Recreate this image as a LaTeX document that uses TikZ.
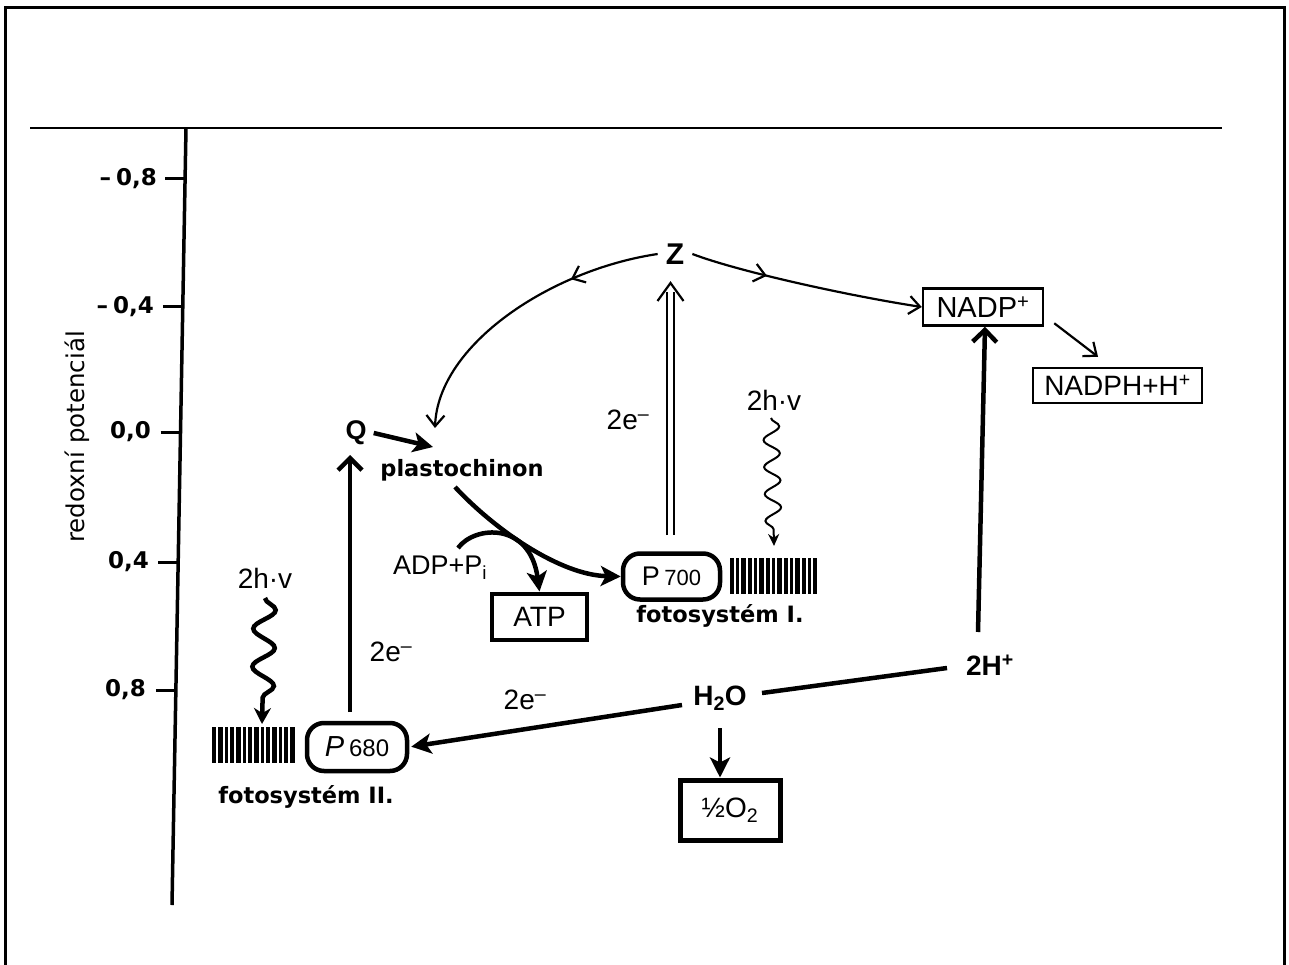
\documentclass[tikz,border=0pt]{standalone}
\usepackage{fontspec}
\setmainfont{Liberation Sans}
\newfontfamily\heavyfont{DejaVu Sans}
\usepackage{graphicx}
\usetikzlibrary{arrows.meta,decorations.pathmorphing,decorations.markings}
\tikzset{
 lab/.style={inner sep=0pt, font=\fontsize{28}{30}\selectfont},
 labb/.style={inner sep=0pt, font=\fontsize{28}{30}\selectfont\bfseries},
 heavy/.style={inner sep=0pt, font=\heavyfont\bfseries\fontsize{22.5}{24}\selectfont},
 ticklab/.style={inner sep=0pt, anchor=east, font=\heavyfont\bfseries\fontsize{23}{24}\selectfont},
 sqbox/.style={draw, line width=2.5pt, inner sep=0pt},
 rbox/.style={draw, line width=4.5pt, rounded corners=17pt, inner sep=0pt},
 thinarr/.style={line width=2.2pt, -{Straight Barb[length=11pt,width=18pt,line width=2.2pt]}},
 boldarr/.style={line width=4.5pt, -{Stealth[length=20pt,width=20pt,inset=5pt]}},
 barbarr/.style={line width=4.5pt, -{Straight Barb[length=12pt,width=24pt,line width=4.5pt]}},
 midarr/.style={postaction={decorate}, decoration={markings, mark=at position #1 with {\arrow{Straight Barb[length=11pt,width=18pt,line width=2.2pt]}}}},
 axisline/.style={line width=3pt},
}
\begin{document}
\begin{tikzpicture}[x=1pt,y=-1pt]
\useasboundingbox (0,0) rectangle (1289,965);
% frame
\draw[line width=3pt] (5,965) -- (5,8) -- (1284,8) -- (1284,965);
\draw[line width=2.5pt] (30,128) -- (1222,128);
% axis
\coordinate (axtop) at (186,128);
\coordinate (axbot) at (172,905);
\draw[line width=3.5pt] (axtop) -- (axbot);
\foreach \y/\xa in {179/185.1, 307/182.8, 432/180.5, 562/178.2, 690/175.9}
  \draw[axisline] (\xa-20,\y) -- (\xa,\y);
\node[ticklab] (l1) at (157,179) {–\hspace{5pt}0,8};
\node[ticklab] (l2) at (154,307) {–\hspace{5pt}0,4};
\node[ticklab] (l3) at (151,432) {0,0};
\node[ticklab] (l4) at (149,562) {0,4};
\node[ticklab] (l5) at (146,690) {0,8};
\node[rotate=90, inner sep=0pt, font=\heavyfont\fontsize{24.5}{26}\selectfont] (rp) at (77,437) {redoxní potenciál};

% top: Z and NADP
\node[inner sep=8pt, font=\fontsize{30}{32}\selectfont\bfseries] (Z) at (675,254) {Z};
\node[sqbox, minimum width=120pt, minimum height=37pt, font=\fontsize{29}{30}\selectfont] (nadp) at (983,307) {NADP\textsuperscript{+}};
\node[sqbox, minimum width=169pt, minimum height=35pt, font=\fontsize{28}{30}\selectfont] (nadph) at (1117.5,385.5) {NADPH+H\textsuperscript{+}};
\draw[thinarr] ([shift={(10,-3.5)}]nadp.south east) -- ([shift={(-19.5,-10)}]nadph.north);

\coordinate (qin) at (435,428);
\draw[thinarr, midarr=0.3] (Z.west) .. controls (550,270) and (438,345) .. (qin);
\draw[thinarr, midarr=0.33] (Z.east) .. controls (740,272) and (850,296) .. (nadp.west);

% PS I
\node[rbox, minimum width=97pt, minimum height=46pt] (p700) at (671.5,576.5) {\fontsize{27}{28}\selectfont P\,\fontsize{22}{24}\selectfont 700};
\node[minimum width=87pt, minimum height=36pt, inner sep=0pt] (psi) at (773.5,576) {};
\foreach \a/\w in {0/4,6/3,11/5,18/4,24/3,29/5,36/4,42/3,47/5,54/4,60/3,65/5,72/4,78/3,83/4}
  \fill ([xshift=\a pt]psi.north west) rectangle ++(\w,36);
\node[heavy] (fs1) at (720,616) {fotosystém I.};

\coordinate (dbot) at (670.5,535);
\coordinate (dtop) at (670.5,292);
\coordinate (dtip) at (670.5,283);
\draw[line width=2.2pt, double distance=5pt] (dbot) -- (dtop);
\draw[line width=2.2pt] ([shift={(-13,18)}]dtip) -- (dtip) -- ([shift={(13,18)}]dtip);
\node[lab] (e1) at (628,420) {2e\textsuperscript{–}};

\node[lab] (hv1) at (774,400) {2h·v};
\coordinate (w1a) at (771,418);
\coordinate (w1b) at (774,546);
\draw[line width=2pt, decorate, decoration={snake, amplitude=8pt, segment length=27pt, post length=12pt}, -{Stealth[length=12pt,width=11pt]}] (w1a) -- (w1b);

% plastochinon
\node[inner sep=3pt, font=\fontsize{27}{28}\selectfont\bfseries] (Q) at (356,433) {Q};
\node[heavy] (plast) at (462,470) {plastochinon};
\coordinate (qp) at (433,447);
\draw[boldarr] ([xshift=4pt]Q.east) -- (qp);
\coordinate (ps) at (455,487);
\draw[boldarr] (ps) .. controls (495,530) and (560,575) .. (p700.west);

\node[inner sep=0pt, font=\fontsize{27}{28}\selectfont] (adp) at (440,568) {ADP+P\textsubscript{i}};
\node[sqbox, line width=4pt, minimum width=95pt, minimum height=46pt, font=\fontsize{28}{30}\selectfont] (atp) at (539.5,616.5) {ATP};
\coordinate (adps) at (458,548);
\draw[boldarr] (adps) .. controls (475,525) and (530,522) .. (atp.north);

% PS II
\node[rbox, minimum width=100pt, minimum height=48pt] (p680) at (357,747) {\fontsize{29}{30}\selectfont\textit{P}\,\fontsize{24}{26}\selectfont 680};
\node[minimum width=85pt, minimum height=36pt, inner sep=0pt] (psii) at (254.5,745) {};
\foreach \a/\w in {0/4,6/5,13/3,18/4,24/5,31/3,36/4,42/5,49/3,54/4,60/5,67/3,72/4,78/5}
  \fill ([xshift=\a pt]psii.north west) rectangle ++(\w,36);
\node[heavy] (fs2) at (306,797) {fotosystém II.};
\node[lab] (hv2) at (265,578) {2h·v};
\coordinate (w2a) at (265,598);
\coordinate (w2b) at (262,724);
\draw[line width=4.5pt, decorate, decoration={snake, amplitude=11pt, segment length=38pt, post length=14pt}, -{Stealth[length=16pt,width=17pt]}] (w2a) -- (w2b);
\node[lab] (e2) at (391,652) {2e\textsuperscript{–}};
\coordinate (qa) at (350,712);
\coordinate (qb) at (350,455);
\draw[barbarr] (qa) -- (qb);

% water
\node[labb] (h2o) at (720,698) {H\textsubscript{2}O};
\node[labb] (h2) at (990,665) {2H\textsuperscript{+}};
\coordinate (hw) at (682,705);
\draw[boldarr, shorten >=2pt] (hw) -- (p680.east);
\node[lab] (e3) at (525,700) {2e\textsuperscript{–}};
\coordinate (he) at (762,693);
\coordinate (hh) at (947,668);
\draw[line width=4.5pt] (he) -- (hh);
\coordinate (ha) at (978,632);
\draw[barbarr] (ha) -- ([xshift=2pt]nadp.south);
\node[sqbox, line width=5pt, minimum width=100pt, minimum height=60pt, font=\fontsize{28}{30}\selectfont] (o2) at (730,810) {½O\textsubscript{2}};
\coordinate (hd) at (720,728);
\draw[boldarr] (hd) -- (o2.north -| hd);
\end{tikzpicture}
\end{document}
